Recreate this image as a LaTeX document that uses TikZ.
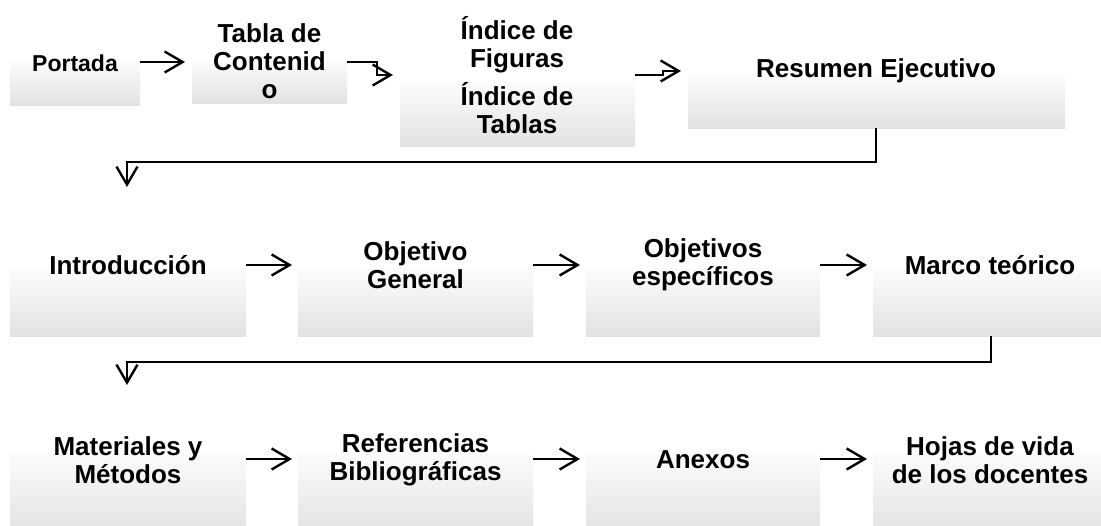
\documentclass[tikz,border=0pt]{standalone}
\usepackage{fontspec}
\setmainfont{Liberation Sans}
\usetikzlibrary{arrows.meta,calc}
\begin{document}
\begin{tikzpicture}[x=1pt,y=-1pt,
  box/.style={draw=none,rectangle,inner sep=0pt,anchor=north west,top color={rgb,255:red,252;green,252;blue,252},bottom color={rgb,255:red,226;green,226;blue,226}},
  txt/.style={inner sep=0pt,align=center,font=\fontsize{26}{28}\selectfont\bfseries},
  conn/.style={line width=2.4pt,-{Straight Barb[length=18pt,width=21pt,line width=2.4pt]}}]
\useasboundingbox (0,0) rectangle (1101,526);
% row 1
\node[box,minimum width=130,minimum height=45] (b1) at (10,60) {};
\node[box,minimum width=155,minimum height=43] (b2) at (192,60) {};
\node[box,minimum width=235,minimum height=64] (b3) at (400,82) {};
\node[box,minimum width=377,minimum height=55] (b4) at (688,73) {};
\node[txt,font=\fontsize{23}{26}\selectfont\bfseries] (t1) at (75,63) {Portada};
\node[txt] (t2) at (269.5,61) {Tabla de\\Contenid\\o};
\node[txt] (t3) at (517,75) {Índice de\\Figuras\\[9pt]Índice de\\Tablas};
\node[txt] (t4) at (876,71) {Resumen Ejecutivo};
% row 2
\node[box,minimum width=236,minimum height=68] (b5) at (10,268) {};
\node[box,minimum width=235,minimum height=68] (b6) at (298,268) {};
\node[box,minimum width=234,minimum height=68] (b7) at (586,268) {};
\node[box,minimum width=235,minimum height=68] (b8) at (873,268) {};
\node[txt] (t5) at (128,265) {Introducción};
\node[txt] (t6) at (415.5,265) {Objetivo\\General};
\node[txt] (t7) at (703,265) {Objetivos\\específicos};
\node[txt] (t8) at (990,265) {Marco teórico};
% row 3
\node[box,minimum width=236,minimum height=80] (b9) at (10,453) {};
\node[box,minimum width=235,minimum height=80] (b10) at (298,453) {};
\node[box,minimum width=234,minimum height=80] (b11) at (586,453) {};
\node[box,minimum width=235,minimum height=80] (b12) at (873,453) {};
\node[txt] (t9) at (128,460) {Materiales y\\Métodos};
\node[txt] (t10) at (415.5,460) {Referencias\\Bibliográficas};
\node[txt] (t11) at (703,460) {Anexos};
\node[txt] (t12) at (990,460) {Hojas de vida\\de los docentes};
% connectors row 1
\draw[conn] (b1.east |- 0,62) -- ([xshift=-7pt]b2.west |- 0,62);
\draw[conn] (b2.east |- 0,62) -- (377,62) -- (377,75) -- ([xshift=-7pt]b3.west |- 0,75);
\draw[conn] (b3.east |- 0,75) -- (663,75) -- (663,71) -- ([xshift=-7pt]b4.west |- 0,71);
% down connectors
\coordinate (d1) at (127,187);
\coordinate (d2) at (127,385);
\draw[conn] (b4.south -| 876,0) -- (876,162) -- (127,162) -- (d1);
\draw[conn] (b8.south -| 991,0) -- (991,362) -- (127,362) -- (d2);
% row 2 connectors
\draw[conn] (b5.east |- 0,265) -- ([xshift=-6pt]b6.west |- 0,265);
\draw[conn] (b6.east |- 0,265) -- ([xshift=-6pt]b7.west |- 0,265);
\draw[conn] (b7.east |- 0,265) -- ([xshift=-6pt]b8.west |- 0,265);
% row 3 connectors
\draw[conn] (b9.east |- 0,459) -- ([xshift=-6pt]b10.west |- 0,459);
\draw[conn] (b10.east |- 0,459) -- ([xshift=-6pt]b11.west |- 0,459);
\draw[conn] (b11.east |- 0,459) -- ([xshift=-6pt]b12.west |- 0,459);
\end{tikzpicture}
\end{document}
